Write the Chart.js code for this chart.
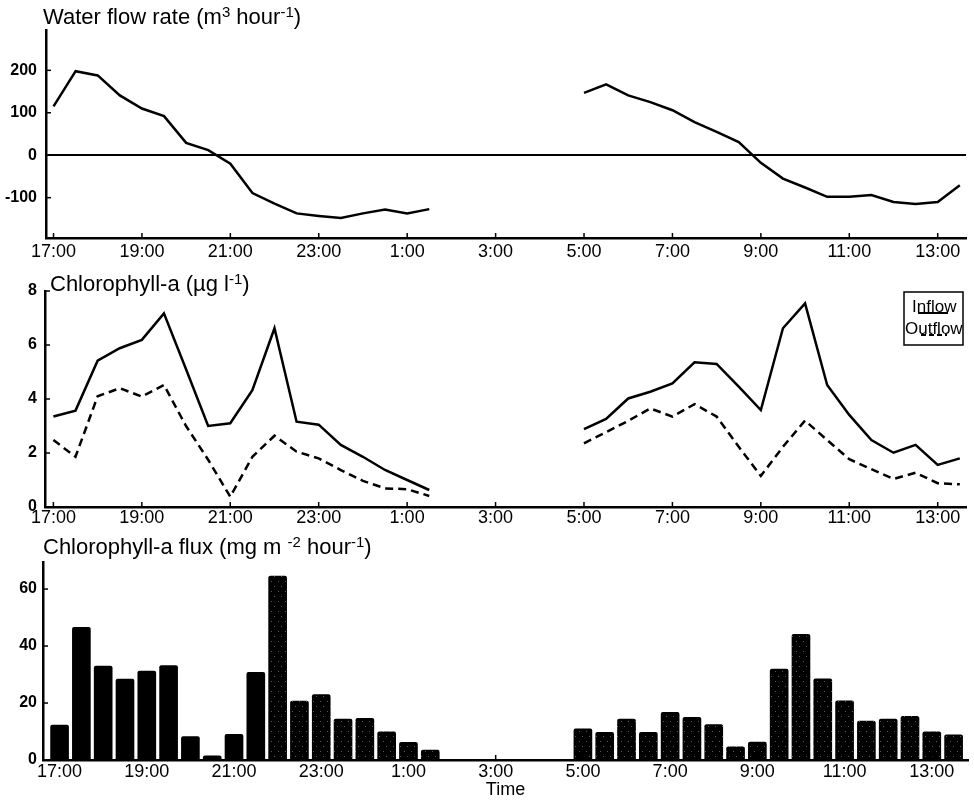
<!DOCTYPE html>
<html>
<head>
<meta charset="utf-8">
<script src="https://cdn.jsdelivr.net/npm/chart.js@4.4.0/dist/chart.umd.min.js"></script>
<style>
    body { margin: 0; background: #fff; width: 974px; height: 801px; position: relative; overflow: hidden;
           font-family: "Liberation Sans", Arial, sans-serif; color: #000; }
    .panel { position: absolute; left: 0; width: 974px; }
    .titre { position: absolute; font-size: 22px; line-height: 22px; white-space: nowrap; }
    .titre sup { font-size: 15px; line-height: 0; vertical-align: 7px; }
</style>
</head>
<body>
<div class="panel" style="top:0;height:272px"><canvas id="graph1"></canvas></div>
<div class="panel" style="top:272px;height:262px"><canvas id="graph2"></canvas></div>
<div class="panel" style="top:534px;height:267px"><canvas id="graph3"></canvas></div>

<div class="titre" style="left:43px;top:6px">Water flow rate (m<sup>3</sup> hour<sup>-1</sup>)</div>
<div class="titre" style="left:50px;top:273px">Chlorophyll-a (µg l<sup>-1</sup>)</div>
<div class="titre" style="left:43px;top:536px">Chlorophyll-a flux (mg m <sup>-2</sup> hour<sup>-1</sup>)</div>

<script>
// half-hourly samples, no data between 2:00 and 4:30
var times = ['17:00', '17:30', '18:00', '18:30', '19:00', '19:30', '20:00', '20:30', '21:00',
    '21:30', '22:00', '22:30', '23:00', '23:30', '0:00', '0:30', '1:00', '1:30',
    '5:00', '5:30', '6:00', '6:30', '7:00', '7:30', '8:00', '8:30', '9:00',
    '9:30', '10:00', '10:30', '11:00', '11:30', '12:00', '12:30', '13:00', '13:30'];
var tickLabels = ['17:00', '19:00', '21:00', '23:00', '1:00', '3:00', '5:00', '7:00', '9:00', '11:00', '13:00'];

var flowRate = [115, 198, 188, 141, 110, 92, 29, 12, -20, -89, -114, -137, -143, -148, -137, -128, -137, -127,
    147, 167, 141, 125, 106, 78, 55, 31, -18, -55, -76, -98, -98, -94, -110, -115, -110, -71];
var chlInflow = [3.35, 3.57, 5.42, 5.88, 6.19, 7.17, 5.1, 3.0, 3.1, 4.33, 6.62, 3.16, 3.05, 2.3, 1.86, 1.37, 1.0, 0.63,
    2.88, 3.26, 4.02, 4.27, 4.58, 5.36, 5.3, 4.46, 3.59, 6.62, 7.54, 4.52, 3.41, 2.48, 2.01, 2.3, 1.56, 1.8];
var chlOutflow = [2.48, 1.86, 4.1, 4.4, 4.09, 4.52, 3.0, 1.75, 0.38, 1.86, 2.64, 2.05, 1.8, 1.37, 0.97, 0.69, 0.66, 0.41,
    2.36, 2.77, 3.19, 3.65, 3.35, 3.81, 3.35, 2.23, 1.15, 2.23, 3.2, 2.48, 1.77, 1.4, 1.04, 1.27, 0.88, 0.84];
var flux = [12.3, 46.6, 33.0, 28.4, 31.2, 33.1, 8.2, 1.5, 9.0, 30.8, 64.6, 20.7, 23.0, 14.4, 14.6, 9.9, 6.2, 3.5,
    10.9, 9.7, 14.4, 9.7, 16.7, 15.0, 12.4, 4.6, 6.3, 31.9, 44.1, 28.5, 20.8, 13.7, 14.4, 15.3, 9.9, 8.8];

Chart.defaults.font.family = '"Liberation Sans", Arial, sans-serif';
Chart.defaults.color = '#000';

// hours since 17:00 on the first day
function heures(t) {
    var p = t.split(':');
    var h = Number(p[0]) + Number(p[1]) / 60;
    if (h < 17) h += 24;
    return h - 17;
}
var listeHeures = times.map(heures);
var tickHeures = tickLabels.map(heures);

// x/y points with a null where the record stops, so the line breaks
function points(valeurs, coupure) {
    var pts = [];
    for (var i = 0; i < valeurs.length; i++) {
        if (coupure && i > 0 && listeHeures[i] - listeHeures[i - 1] > 0.5) {
            pts.push({ x: (listeHeures[i] + listeHeures[i - 1]) / 2, y: null });
        }
        pts.push({ x: listeHeures[i], y: valeurs[i] });
    }
    return pts;
}

function axeTemps(min, max, hauteur, pad, titre) {
    return {
        type: 'linear', min: min, max: max, offset: false,
        afterBuildTicks: function (s) { s.ticks = tickHeures.map(function (h) { return { value: h }; }); },
        afterFit: function (s) { s.height = hauteur; },
        grid: { display: false, drawTicks: false },
        border: { display: true, color: '#000', width: 2.5 },
        ticks: {
            autoSkip: false, maxRotation: 0, padding: pad, font: { size: 18 }, color: '#000',
            callback: function (v) { return tickLabels[tickHeures.indexOf(v)]; }
        },
        title: titre ? { display: true, text: titre, font: { size: 18 }, color: '#000', padding: 0 } : { display: false }
    };
}

function axeValeur(min, max, ticks, largeur, pad) {
    return {
        min: min, max: max,
        afterBuildTicks: function (s) { s.ticks = ticks.map(function (v) { return { value: v }; }); },
        afterFit: function (s) { s.width = largeur; },
        grid: { display: false, drawTicks: false },
        border: { display: true, color: '#000', width: 2.5 },
        ticks: { padding: pad, font: { size: 16, weight: 'bold' }, color: '#000' }
    };
}

// small tick marks pointing into the plot
var petitsTicks = {
    id: 'petitsTicks',
    afterDraw: function (chart) {
        var ctx = chart.ctx, a = chart.chartArea, sx = chart.scales.x, sy = chart.scales.y;
        ctx.save();
        ctx.strokeStyle = '#000';
        ctx.lineWidth = 1.5;
        sx.ticks.forEach(function (t) {
            var px = sx.getPixelForValue(t.value);
            ctx.beginPath(); ctx.moveTo(px, a.bottom); ctx.lineTo(px, a.bottom - 5); ctx.stroke();
        });
        sy.ticks.forEach(function (t) {
            var py = sy.getPixelForValue(t.value);
            ctx.beginPath(); ctx.moveTo(a.left, py); ctx.lineTo(a.left + 5, py); ctx.stroke();
        });
        ctx.restore();
    }
};

// boxed legend, line samples drawn under the words
var legende = {
    id: 'legende',
    afterDraw: function (chart) {
        var ctx = chart.ctx, a = chart.chartArea;
        var w = 59, h = 53, x0 = a.right - 3 - w, y0 = a.top + 1;
        ctx.save();
        ctx.fillStyle = '#fff';
        ctx.fillRect(x0, y0, w, h);
        ctx.strokeStyle = '#000';
        ctx.lineWidth = 1.5;
        ctx.strokeRect(x0, y0, w, h);
        ctx.fillStyle = '#000';
        ctx.font = '17px "Liberation Sans", Arial, sans-serif';
        ctx.textBaseline = 'alphabetic';
        ctx.fillText('Inflow', x0 + 8, y0 + 20);
        ctx.fillText('Outflow', x0 + 1, y0 + 42);
        ctx.lineWidth = 2;
        ctx.beginPath(); ctx.moveTo(x0 + 14, y0 + 21); ctx.lineTo(x0 + 44, y0 + 21); ctx.stroke();
        ctx.setLineDash([5, 3]);
        ctx.beginPath(); ctx.moveTo(x0 + 17, y0 + 43); ctx.lineTo(x0 + 43, y0 + 43); ctx.stroke();
        ctx.restore();
    }
};

// black fill with a sparse grey stipple
function motifPoints() {
    var c = document.createElement('canvas');
    c.width = 7; c.height = 10;
    var g = c.getContext('2d');
    g.fillStyle = '#000';
    g.fillRect(0, 0, 7, 10);
    g.fillStyle = '#5a5a5a';
    g.fillRect(1, 2, 1, 1);
    g.fillRect(5, 7, 1, 1);
    return g.createPattern(c, 'repeat');
}
var motif = motifPoints();

var commun = { responsive: true, maintainAspectRatio: false, animation: false, devicePixelRatio: 1 };

// graph 1 : water flow rate
var axeY1 = axeValeur(-195, 295, [-100, 0, 100, 200], 46, 9);
axeY1.grid = {
    display: true, drawOnChartArea: true, drawTicks: false, lineWidth: 2,
    color: function (c) { return c.tick && c.tick.value === 0 ? '#000' : 'rgba(0,0,0,0)'; }
};
var graph1 = new Chart(document.getElementById('graph1').getContext('2d'), {
    type: 'line',
    data: {
        datasets: [{
            data: points(flowRate, true), borderColor: '#000', borderWidth: 2.5,
            pointRadius: 0, tension: 0, spanGaps: false
        }]
    },
    options: Object.assign({}, commun, {
        layout: { padding: { top: 30, right: 8, left: 0, bottom: 0 } },
        plugins: { legend: { display: false }, tooltip: { enabled: false } },
        scales: { x: axeTemps(-0.17, 20.64, 34, 3), y: axeY1 }
    }),
    plugins: [petitsTicks]
});

// graph 2 : chlorophyll-a in and out
var graph2 = new Chart(document.getElementById('graph2').getContext('2d'), {
    type: 'line',
    data: {
        datasets: [{
            label: 'Inflow', data: points(chlInflow, true), borderColor: '#000', borderWidth: 2.5,
            pointRadius: 0, tension: 0, spanGaps: false
        }, {
            label: 'Outflow', data: points(chlOutflow, true), borderColor: '#000', borderWidth: 2.5,
            borderDash: [8, 5], pointRadius: 0, tension: 0, spanGaps: false
        }]
    },
    options: Object.assign({}, commun, {
        layout: { padding: { top: 19, right: 8, left: 0, bottom: 0 } },
        plugins: { legend: { display: false }, tooltip: { enabled: false } },
        scales: { x: axeTemps(-0.19, 20.64, 27, 0), y: axeValeur(0, 8, [0, 2, 4, 6, 8], 45, 8) }
    }),
    plugins: [petitsTicks, legende]
});

// graph 3 : chlorophyll-a flux
var couleurs = flux.map(function (v, i) { return i < 10 ? '#000' : motif; });
var graph3 = new Chart(document.getElementById('graph3').getContext('2d'), {
    type: 'bar',
    data: {
        datasets: [{
            data: points(flux, false), backgroundColor: couleurs, borderWidth: 0,
            barThickness: 18, borderRadius: { topLeft: 2, topRight: 2 }, borderSkipped: 'start'
        }]
    },
    options: Object.assign({}, commun, {
        layout: { padding: { top: 28, right: 6, left: 0, bottom: 0 } },
        plugins: { legend: { display: false }, tooltip: { enabled: false } },
        scales: { x: axeTemps(-0.38, 20.83, 41, 1, 'Time'), y: axeValeur(0, 69.5, [0, 20, 40, 60], 43, 6) }
    }),
    plugins: [petitsTicks]
});
</script>
</body>
</html>
